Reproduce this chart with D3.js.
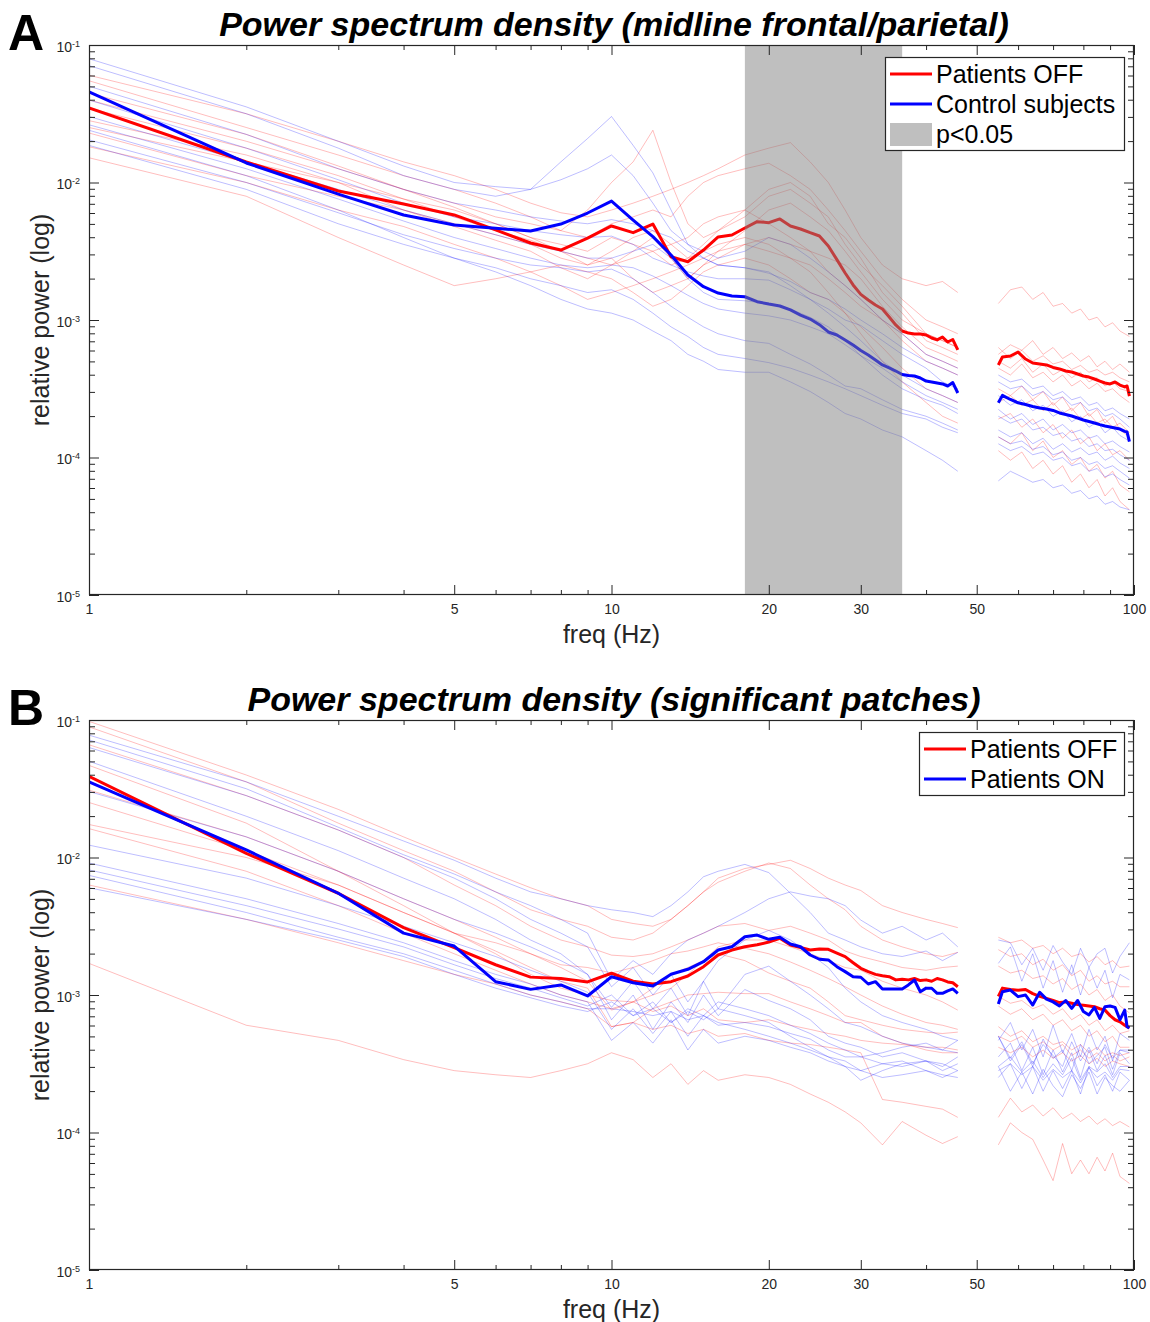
<!DOCTYPE html>
<html>
<head>
<meta charset="utf-8">
<script src="https://d3js.org/d3.v7.min.js"></script>
<style>
  body { margin: 0; background: #fff; }
  svg { display: block; }
</style>
</head>
<body>
<svg id="chart" width="1150" height="1322"></svg>
<script>
'use strict';

// frequencies (Hz) sampled for the thin per-subject traces
const thinFreqs = [1,2,3,4,5,6,7,8,9,10,11,12,13,14,15,16,18,20,22,24,26,28,30,33,36,40,43,46,
                   55,58,61,64,67,70,73,76,79,82,85,88,91,94,98];
// frequencies (Hz) of the group average traces
const meanFreqs = [1,2,3,4,5,6,7,8,9,10,11,12,13,14,15,16,17,18,19,20,21,22,23,24,25,26,27,28,29,30,
                   31,32,33,34,35,36,37,38,39,40,41,42,43,44,45,46,
                   55,56,58,60,62,64,66,68,70,72,74,76,78,80,82,84,86,88,90,92,94,96,97,98];

const xTickLabels = [1, 5, 10, 20, 30, 50, 100];
const xMinorTicks = [2, 3, 4, 6, 7, 8, 9, 40, 60, 70, 80, 90];
const yDecades = [1e-5, 1e-4, 1e-3, 1e-2, 1e-1];

// all power values below are log10(relative power)

// ---- panel A : Patients OFF vs control subjects (midline frontal/parietal)
const meanOffA = [
  -1.458,-1.851,-2.062,-2.156,-2.236,-2.345,-2.44,-2.491,-2.404,-2.316,
  -2.365,-2.302,-2.54,-2.576,-2.491,-2.396,-2.382,-2.331,-2.285,-2.292,
  -2.265,-2.316,-2.338,-2.365,-2.389,-2.462,-2.561,-2.658,-2.745,-2.814,
  -2.855,-2.891,-2.92,-2.978,-3.036,-3.08,-3.095,-3.102,-3.102,-3.109,
  -3.131,-3.145,-3.124,-3.16,-3.142,-3.218,
  -3.327,-3.269,-3.262,-3.233,-3.284,-3.313,-3.32,-3.327,-3.345,-3.356,-3.371,-3.378,
  -3.393,-3.407,-3.415,-3.429,-3.444,-3.458,-3.465,-3.451,-3.473,-3.487,-3.48,-3.553];
const meanCtrlA = [
  -1.34,-1.858,-2.084,-2.236,-2.309,-2.333,-2.353,-2.302,-2.222,-2.135,
  -2.273,-2.394,-2.527,-2.673,-2.758,-2.804,-2.825,-2.831,-2.867,-2.884,
  -2.898,-2.927,-2.964,-2.993,-3.034,-3.087,-3.109,-3.145,-3.182,-3.222,
  -3.255,-3.291,-3.327,-3.349,-3.371,-3.396,-3.404,-3.407,-3.422,-3.444,
  -3.451,-3.458,-3.465,-3.48,-3.455,-3.531,
  -3.602,-3.548,-3.578,-3.602,-3.615,-3.629,-3.64,-3.647,-3.658,-3.676,-3.687,-3.698,
  -3.713,-3.727,-3.738,-3.749,-3.761,-3.771,-3.778,-3.785,-3.793,-3.81,-3.815,-3.884];
const subjOffA = [
  [-1.22,-1.50,-1.70,-1.85,-1.95,-2.05,-2.15,-2.22,-2.25,-2.20,-2.15,-2.10,-2.05,-2.00,-1.95,-1.90,-1.80,-1.75,-1.71,-1.85,-2.00,-2.20,-2.40,-2.60,-2.70,-2.75,-2.72,-2.80,
   -2.88,-2.78,-2.76,-2.85,-2.80,-2.90,-2.88,-2.95,-2.92,-3.00,-2.98,-3.05,-3.02,-3.08,-3.12],
  [-1.26,-1.60,-1.80,-1.95,-2.05,-2.15,-2.25,-2.35,-2.20,-2.00,-1.85,-1.62,-2.00,-2.30,-2.40,-2.35,-2.25,-2.10,-2.05,-2.15,-2.25,-2.45,-2.60,-2.75,-2.90,-3.10,-3.15,-3.20,
   -3.20,-3.28,-3.22,-3.30,-3.26,-3.32,-3.30,-3.36,-3.33,-3.38,-3.36,-3.40,-3.38,-3.42,-3.45],
  [-1.40,-1.70,-1.90,-2.05,-2.15,-2.25,-2.30,-2.35,-2.40,-2.30,-2.25,-2.20,-2.25,-2.10,-2.00,-1.95,-1.90,-1.86,-1.95,-2.05,-2.20,-2.35,-2.50,-2.70,-2.85,-3.00,-3.05,-3.10,
   -3.25,-3.18,-3.22,-3.15,-3.25,-3.20,-3.28,-3.24,-3.30,-3.26,-3.34,-3.30,-3.36,-3.32,-3.38],
  [-1.46,-1.75,-1.95,-2.12,-2.20,-2.30,-2.40,-2.45,-2.50,-2.40,-2.45,-2.50,-2.60,-2.55,-2.45,-2.35,-2.20,-2.05,-2.00,-2.10,-2.30,-2.40,-2.55,-2.80,-2.95,-3.15,-3.20,-3.25,
   -3.35,-3.40,-3.32,-3.42,-3.38,-3.45,-3.40,-3.48,-3.44,-3.50,-3.46,-3.52,-3.50,-3.55,-3.60],
  [-1.60,-1.85,-2.00,-2.12,-2.25,-2.35,-2.42,-2.50,-2.55,-2.60,-2.50,-2.40,-2.55,-2.70,-2.60,-2.50,-2.35,-2.20,-2.15,-2.25,-2.35,-2.50,-2.65,-2.85,-3.00,-3.10,-3.15,-3.20,
   -3.30,-3.35,-3.28,-3.38,-3.32,-3.40,-3.36,-3.42,-3.38,-3.45,-3.42,-3.48,-3.45,-3.50,-3.52],
  [-1.64,-1.95,-2.10,-2.20,-2.30,-2.38,-2.45,-2.55,-2.60,-2.55,-2.70,-2.80,-2.75,-2.70,-2.60,-2.55,-2.45,-2.40,-2.45,-2.50,-2.55,-2.60,-2.70,-2.90,-3.05,-3.20,-3.25,-3.30,
   -3.60,-3.55,-3.62,-3.58,-3.66,-3.60,-3.68,-3.64,-3.72,-3.68,-3.75,-3.72,-3.78,-3.75,-3.82],
  [-1.74,-2.00,-2.20,-2.32,-2.45,-2.55,-2.65,-2.75,-2.85,-2.80,-2.75,-2.70,-2.65,-2.60,-2.55,-2.50,-2.45,-2.50,-2.55,-2.60,-2.70,-2.80,-2.90,-3.00,-3.15,-3.30,-3.35,-3.40,
   -3.72,-3.68,-3.78,-3.72,-3.82,-3.76,-3.86,-3.80,-3.90,-3.85,-3.95,-3.90,-3.98,-3.95,-4.02],
  [-1.82,-2.10,-2.40,-2.60,-2.75,-2.70,-2.65,-2.60,-2.65,-2.70,-2.80,-2.90,-2.85,-2.75,-2.65,-2.60,-2.55,-2.60,-2.70,-2.80,-2.85,-2.95,-3.05,-3.20,-3.35,-3.50,-3.55,-3.60,
   -3.85,-3.90,-3.82,-3.95,-3.88,-4.00,-3.95,-4.05,-4.00,-4.10,-4.05,-4.15,-4.10,-4.20,-4.25],
  [-1.55,-1.80,-2.00,-2.20,-2.32,-2.42,-2.50,-2.62,-2.70,-2.60,-2.55,-2.50,-2.45,-2.40,-2.30,-2.25,-2.20,-2.30,-2.40,-2.50,-2.65,-2.75,-2.85,-3.00,-3.10,-3.25,-3.30,-3.35,
   -3.50,-3.55,-3.48,-3.58,-3.52,-3.62,-3.56,-3.66,-3.60,-3.70,-3.65,-3.75,-3.70,-3.80,-3.85],
  [-1.35,-1.65,-1.88,-2.05,-2.18,-2.30,-2.40,-2.50,-2.60,-2.50,-2.40,-2.35,-2.45,-2.55,-2.50,-2.45,-2.40,-2.45,-2.55,-2.65,-2.80,-2.95,-3.10,-3.30,-3.45,-3.60,-3.70,-3.75,
   -3.95,-4.02,-3.96,-4.08,-4.02,-4.12,-4.06,-4.18,-4.12,-4.22,-4.16,-4.28,-4.22,-4.32,-4.38]
];
const subjCtrlA = [
  [-1.10,-1.45,-1.70,-1.88,-2.00,-2.03,-2.05,-1.85,-1.68,-1.52,-1.73,-1.93,-2.20,-2.45,-2.55,-2.60,-2.62,-2.65,-2.75,-2.85,-2.95,-3.05,-3.15,-3.30,-3.40,-3.50,-3.55,-3.60,
   -3.70,-3.75,-3.72,-3.80,-3.78,-3.84,-3.82,-3.88,-3.86,-3.92,-3.90,-3.95,-3.94,-3.98,-4.02],
  [-1.15,-1.50,-1.75,-1.95,-2.05,-2.10,-2.05,-1.98,-1.90,-1.80,-1.95,-2.15,-2.35,-2.45,-2.50,-2.55,-2.50,-2.40,-2.45,-2.55,-2.65,-2.75,-2.85,-3.00,-3.10,-3.25,-3.30,-3.35,
   -3.45,-3.50,-3.48,-3.55,-3.52,-3.58,-3.56,-3.62,-3.60,-3.66,-3.64,-3.70,-3.68,-3.72,-3.78],
  [-1.30,-1.65,-1.90,-2.05,-2.15,-2.20,-2.25,-2.28,-2.30,-2.27,-2.30,-2.35,-2.40,-2.50,-2.55,-2.60,-2.62,-2.66,-2.72,-2.80,-2.85,-2.92,-3.00,-3.10,-3.20,-3.30,-3.35,-3.40,
   -3.40,-3.45,-3.43,-3.50,-3.48,-3.55,-3.52,-3.58,-3.56,-3.62,-3.60,-3.66,-3.64,-3.68,-3.72],
  [-1.40,-1.75,-1.98,-2.15,-2.25,-2.30,-2.35,-2.38,-2.40,-2.39,-2.45,-2.55,-2.60,-2.65,-2.68,-2.70,-2.70,-2.71,-2.78,-2.85,-2.92,-3.00,-3.04,-3.15,-3.25,-3.35,-3.45,-3.50,
   -3.55,-3.62,-3.58,-3.66,-3.62,-3.70,-3.66,-3.74,-3.70,-3.78,-3.74,-3.82,-3.78,-3.84,-3.88],
  [-1.52,-1.85,-2.05,-2.20,-2.30,-2.38,-2.45,-2.50,-2.55,-2.55,-2.50,-2.45,-2.55,-2.70,-2.80,-2.85,-2.86,-2.88,-2.92,-2.98,-3.05,-3.15,-3.26,-3.35,-3.45,-3.55,-3.60,-3.65,
   -3.80,-3.85,-3.82,-3.90,-3.86,-3.94,-3.90,-3.96,-3.93,-3.98,-3.96,-4.02,-3.99,-4.04,-4.08],
  [-1.58,-1.90,-2.12,-2.28,-2.40,-2.48,-2.55,-2.60,-2.62,-2.60,-2.62,-2.68,-2.75,-2.82,-2.88,-2.92,-2.95,-2.97,-3.00,-3.05,-3.10,-3.18,-3.26,-3.40,-3.50,-3.58,-3.62,-3.68,
   -3.65,-3.72,-3.68,-3.76,-3.72,-3.80,-3.76,-3.82,-3.80,-3.86,-3.84,-3.90,-3.88,-3.92,-3.96],
  [-1.69,-2.00,-2.22,-2.38,-2.48,-2.55,-2.60,-2.62,-2.65,-2.63,-2.70,-2.80,-2.90,-2.98,-3.05,-3.10,-3.15,-3.17,-3.25,-3.32,-3.40,-3.48,-3.50,-3.58,-3.65,-3.70,-3.75,-3.80,
   -3.85,-3.90,-3.88,-3.94,-3.92,-3.98,-3.96,-4.02,-4.00,-4.05,-4.03,-4.08,-4.06,-4.10,-4.15],
  [-1.73,-2.05,-2.30,-2.45,-2.55,-2.62,-2.70,-2.75,-2.80,-2.78,-2.85,-2.95,-3.05,-3.12,-3.20,-3.25,-3.28,-3.31,-3.35,-3.40,-3.45,-3.50,-3.55,-3.62,-3.68,-3.72,-3.78,-3.82,
   -3.90,-3.95,-3.92,-3.98,-3.96,-4.02,-4.00,-4.06,-4.04,-4.10,-4.08,-4.14,-4.12,-4.16,-4.20],
  [-1.62,-1.95,-2.20,-2.40,-2.55,-2.65,-2.75,-2.85,-2.92,-2.95,-3.00,-3.08,-3.15,-3.25,-3.30,-3.36,-3.38,-3.38,-3.45,-3.52,-3.60,-3.68,-3.72,-3.80,-3.85,-3.95,-4.02,-4.10,
   -4.17,-4.10,-4.14,-4.18,-4.16,-4.22,-4.20,-4.26,-4.24,-4.30,-4.28,-4.34,-4.32,-4.36,-4.38]
];
const sigBandA = [18, 36];

// ---- panel B : Patients OFF vs Patients ON (significant patches)
const meanOffB = [
  -1.41,-1.97,-2.26,-2.51,-2.655,-2.78,-2.87,-2.88,-2.905,-2.842,
  -2.90,-2.92,-2.903,-2.862,-2.794,-2.709,-2.673,-2.649,-2.635,-2.615,
  -2.588,-2.636,-2.655,-2.673,-2.665,-2.668,-2.695,-2.721,-2.765,-2.806,
  -2.83,-2.85,-2.86,-2.867,-2.89,-2.885,-2.89,-2.88,-2.895,-2.89,
  -2.90,-2.88,-2.89,-2.905,-2.911,-2.94,
  -3.01,-2.95,-2.96,-2.965,-2.96,-2.99,-3.01,-3.025,-3.04,-3.055,-3.05,-3.06,
  -3.07,-3.075,-3.08,-3.085,-3.10,-3.11,-3.15,-3.18,-3.195,-3.22,-3.23,-3.24];
const meanOnB = [
  -1.45,-1.945,-2.26,-2.55,-2.644,-2.903,-2.959,-2.927,-3.007,-2.867,
  -2.911,-2.935,-2.849,-2.813,-2.758,-2.673,-2.649,-2.576,-2.564,-2.595,
  -2.58,-2.629,-2.649,-2.709,-2.74,-2.745,-2.794,-2.83,-2.867,-2.871,
  -2.92,-2.903,-2.956,-2.956,-2.956,-2.956,-2.927,-2.891,-2.976,-2.95,
  -2.951,-2.988,-2.988,-2.97,-2.956,-2.988,
  -3.065,-2.976,-2.964,-3.012,-3.00,-3.073,-2.98,-3.03,-3.05,-3.08,-3.04,-3.097,
  -3.04,-3.12,-3.145,-3.09,-3.17,-3.085,-3.08,-3.09,-3.18,-3.11,-3.231,-3.24];
const subjOffB = [
  [-1.01,-1.40,-1.65,-1.85,-2.00,-2.12,-2.22,-2.30,-2.35,-2.45,-2.48,-2.50,-2.45,-2.35,-2.25,-2.15,-2.08,-2.05,-2.02,-2.08,-2.15,-2.20,-2.24,-2.35,-2.40,-2.45,-2.48,-2.51,
   -2.58,-2.62,-2.60,-2.66,-2.64,-2.70,-2.66,-2.72,-2.70,-2.76,-2.72,-2.78,-2.75,-2.80,-2.79],
  [-1.05,-1.45,-1.75,-1.95,-2.10,-2.25,-2.38,-2.45,-2.50,-2.58,-2.60,-2.55,-2.45,-2.35,-2.25,-2.18,-2.10,-2.04,-2.08,-2.20,-2.30,-2.38,-2.50,-2.60,-2.65,-2.70,-2.72,-2.69,
   -2.67,-2.72,-2.70,-2.78,-2.74,-2.82,-2.78,-2.86,-2.82,-2.90,-2.86,-2.92,-2.90,-2.94,-2.94],
  [-1.18,-1.55,-1.80,-2.00,-2.20,-2.35,-2.50,-2.60,-2.65,-2.71,-2.72,-2.70,-2.65,-2.60,-2.55,-2.50,-2.48,-2.53,-2.50,-2.55,-2.60,-2.68,-2.72,-2.76,-2.80,-2.82,-2.80,-2.79,
   -2.79,-2.84,-2.82,-2.88,-2.86,-2.92,-2.88,-2.96,-2.92,-3.00,-2.96,-3.04,-3.00,-3.08,-3.13],
  [-1.33,-1.75,-2.10,-2.35,-2.55,-2.70,-2.85,-2.95,-3.00,-3.04,-3.05,-3.00,-2.95,-2.85,-2.75,-2.65,-2.60,-2.60,-2.65,-2.70,-2.75,-2.80,-2.82,-2.90,-2.95,-3.00,-3.05,-3.11,
   -3.01,-3.06,-3.04,-3.10,-3.07,-3.14,-3.10,-3.18,-3.14,-3.22,-3.18,-3.26,-3.22,-3.28,-3.26],
  [-1.51,-1.85,-2.10,-2.30,-2.45,-2.58,-2.70,-2.80,-2.90,-3.11,-3.05,-2.95,-2.85,-2.80,-2.75,-2.70,-2.75,-2.84,-2.90,-2.95,-3.05,-3.15,-3.18,-3.22,-3.25,-3.27,-3.28,-3.27,
   -3.08,-3.14,-3.10,-3.18,-3.14,-3.22,-3.18,-3.26,-3.22,-3.30,-3.26,-3.34,-3.30,-3.38,-3.38],
  [-1.76,-2.00,-2.20,-2.40,-2.55,-2.68,-2.80,-2.90,-2.95,-3.23,-3.20,-3.10,-3.05,-3.00,-2.99,-2.98,-2.99,-2.99,-3.05,-3.10,-3.15,-3.20,-3.20,-3.30,-3.35,-3.40,-3.42,-3.42,
   -3.23,-3.30,-3.26,-3.34,-3.30,-3.36,-3.34,-3.40,-3.36,-3.42,-3.38,-3.44,-3.42,-3.44,-3.42],
  [-1.79,-2.10,-2.35,-2.55,-2.70,-2.82,-2.92,-3.00,-3.05,-3.10,-3.05,-3.12,-3.08,-3.15,-3.10,-3.18,-3.20,-3.18,-3.22,-3.25,-3.28,-3.30,-3.33,-3.35,-3.36,-3.38,-3.38,-3.40,
   -3.38,-3.42,-3.38,-3.45,-3.40,-3.46,-3.42,-3.48,-3.44,-3.50,-3.46,-3.52,-3.48,-3.50,-3.52],
  [-2.20,-2.45,-2.62,-2.75,-2.85,-2.92,-3.00,-3.05,-3.10,-3.23,-3.20,-3.25,-3.22,-3.28,-3.25,-3.30,-3.28,-3.33,-3.35,-3.36,-3.38,-3.40,-3.42,-3.76,-3.78,-3.81,-3.83,-3.89,
   -3.89,-3.75,-3.85,-3.80,-3.88,-3.82,-3.90,-3.86,-3.92,-3.88,-3.94,-3.90,-3.95,-3.92,-3.96],
  [-2.77,-3.22,-3.33,-3.47,-3.55,-3.58,-3.60,-3.55,-3.50,-3.42,-3.47,-3.60,-3.50,-3.65,-3.55,-3.62,-3.58,-3.60,-3.65,-3.72,-3.78,-3.85,-3.93,-4.09,-3.92,-4.02,-4.08,-4.03,
   -4.09,-3.93,-4.00,-4.05,-4.20,-4.35,-4.08,-4.30,-4.20,-4.30,-4.18,-4.28,-4.15,-4.32,-4.37],
  [-1.60,-1.95,-2.20,-2.40,-2.55,-2.62,-2.70,-2.78,-2.80,-2.84,-2.80,-2.75,-2.70,-2.68,-2.65,-2.62,-2.66,-2.70,-2.76,-2.82,-2.88,-2.94,-3.00,-3.08,-3.14,-3.20,-3.22,-3.25,
   -3.30,-3.34,-3.30,-3.38,-3.34,-3.40,-3.36,-3.44,-3.40,-3.46,-3.42,-3.48,-3.44,-3.48,-3.45]
];
const subjOnB = [
  [-1.11,-1.45,-1.70,-1.88,-2.02,-2.15,-2.25,-2.30,-2.35,-2.38,-2.40,-2.43,-2.35,-2.25,-2.14,-2.10,-2.05,-2.11,-2.26,-2.40,-2.55,-2.60,-2.65,-2.70,-2.72,-2.68,-2.75,-2.69,
   -2.77,-2.65,-2.90,-2.70,-2.95,-2.75,-2.98,-2.78,-3.00,-2.80,-2.95,-2.82,-3.02,-2.85,-2.89],
  [-1.145,-1.50,-1.78,-1.98,-2.12,-2.25,-2.35,-2.45,-2.55,-2.89,-2.75,-2.85,-2.70,-2.60,-2.55,-2.50,-2.40,-2.30,-2.25,-2.28,-2.30,-2.35,-2.455,-2.55,-2.50,-2.60,-2.55,-2.65,
   -2.60,-2.62,-2.78,-2.66,-2.82,-2.64,-2.76,-2.85,-2.66,-2.80,-2.70,-2.66,-2.84,-2.72,-2.62],
  [-1.20,-1.55,-1.80,-2.00,-2.15,-2.30,-2.45,-2.55,-2.65,-2.94,-2.80,-3.00,-2.85,-3.05,-2.90,-2.75,-2.60,-2.53,-2.60,-2.70,-2.80,-2.95,-3.05,-3.15,-3.20,-3.25,-3.30,-3.33,
   -3.33,-3.20,-3.40,-3.25,-3.45,-3.22,-3.42,-3.28,-3.45,-3.25,-3.40,-3.30,-3.48,-3.28,-3.33],
  [-1.30,-1.70,-1.95,-2.15,-2.30,-2.45,-2.60,-2.70,-2.85,-3.09,-2.90,-3.10,-2.95,-3.15,-2.90,-3.10,-2.85,-2.79,-2.90,-3.00,-3.10,-3.20,-3.23,-3.30,-3.35,-3.38,-3.40,-3.42,
   -3.30,-3.48,-3.36,-3.52,-3.32,-3.46,-3.40,-3.55,-3.36,-3.50,-3.44,-3.38,-3.54,-3.40,-3.42],
  [-1.52,-1.85,-2.10,-2.30,-2.45,-2.55,-2.65,-2.75,-2.85,-3.18,-3.00,-3.25,-3.05,-3.20,-3.00,-3.15,-2.96,-3.04,-3.10,-3.18,-3.30,-3.35,-3.38,-3.45,-3.42,-3.48,-3.50,-3.55,
   -3.52,-3.45,-3.56,-3.48,-3.60,-3.50,-3.58,-3.46,-3.62,-3.52,-3.56,-3.50,-3.60,-3.52,-3.52],
  [-1.91,-2.15,-2.35,-2.50,-2.62,-2.72,-2.82,-2.90,-2.98,-3.25,-3.10,-3.28,-3.12,-3.30,-3.15,-3.22,-3.20,-3.23,-3.28,-3.32,-3.40,-3.45,-3.45,-3.50,-3.48,-3.55,-3.58,-3.60,
   -3.52,-3.70,-3.56,-3.72,-3.54,-3.66,-3.74,-3.58,-3.68,-3.56,-3.72,-3.60,-3.66,-3.70,-3.62],
  [-2.04,-2.30,-2.48,-2.62,-2.75,-2.85,-2.92,-3.00,-3.05,-3.33,-3.20,-3.35,-3.18,-3.40,-3.25,-3.35,-3.30,-3.33,-3.38,-3.42,-3.48,-3.52,-3.62,-3.55,-3.50,-3.48,-3.52,-3.45,
   -3.45,-3.35,-3.55,-3.38,-3.58,-3.40,-3.56,-3.42,-3.60,-3.40,-3.55,-3.44,-3.58,-3.42,-3.50],
  [-2.09,-2.35,-2.52,-2.65,-2.78,-2.88,-2.95,-3.02,-3.08,-3.00,-3.15,-3.05,-3.20,-3.10,-3.15,-3.05,-3.10,-3.15,-3.22,-3.28,-3.35,-3.40,-3.45,-3.42,-3.38,-3.35,-3.40,-3.33,
   -3.30,-3.46,-3.34,-3.50,-3.36,-3.44,-3.52,-3.34,-3.48,-3.38,-3.50,-3.36,-3.46,-3.40,-3.40],
  [-2.13,-2.40,-2.58,-2.70,-2.82,-2.92,-3.00,-3.05,-3.10,-3.10,-3.12,-3.15,-3.12,-3.18,-3.15,-3.20,-3.25,-3.30,-3.35,-3.40,-3.45,-3.48,-3.55,-3.50,-3.52,-3.48,-3.55,-3.50,
   -3.55,-3.50,-3.58,-3.52,-3.62,-3.54,-3.60,-3.55,-3.64,-3.53,-3.60,-3.56,-3.62,-3.54,-3.55],
  [-2.22,-2.45,-2.60,-2.72,-2.85,-2.95,-3.02,-3.08,-3.12,-3.05,-3.15,-3.10,-3.20,-3.12,-3.18,-3.10,-3.15,-3.20,-3.30,-3.38,-3.45,-3.52,-3.55,-3.60,-3.58,-3.55,-3.60,-3.55,
   -3.60,-3.50,-3.68,-3.52,-3.70,-3.55,-3.68,-3.55,-3.72,-3.52,-3.66,-3.58,-3.70,-3.56,-3.62]
];

const RED = '#ff0000';
const BLUE = '#0000ff';
const AXIS = '#262626';
const NARROW = "'Liberation Sans Narrow', 'Liberation Sans', Arial, sans-serif";
const SANS = "'Liberation Sans', Arial, Helvetica, sans-serif";

const svg = d3.select('#chart');
svg.append('rect').attr('width', 1150).attr('height', 1322).attr('fill', '#fff');

const plotLeft = 89, plotRight = 1134;

// split a trace into the part below and above the 50 Hz notch
function segments(freqs, logs) {
  const pts = logs.map(function(v, i) { return {f: freqs[i], p: Math.pow(10, v)}; });
  return [pts.filter(function(d) { return d.f <= 46; }),
          pts.filter(function(d) { return d.f >= 55; })];
}

function drawPanel(cfg) {
  const x = d3.scaleLog().domain([1, 100]).range([plotLeft, plotRight]);
  const y = d3.scaleLog().domain([1e-5, 1e-1]).range([cfg.bottom, cfg.top]);
  const line = d3.line().x(function(d) { return x(d.f); }).y(function(d) { return y(d.p); });

  const g = svg.append('g');
  const clipId = 'clip-' + cfg.id;
  g.append('clipPath').attr('id', clipId)
    .append('rect')
      .attr('x', plotLeft).attr('y', cfg.top)
      .attr('width', plotRight - plotLeft).attr('height', cfg.bottom - cfg.top);

  const plot = g.append('g').attr('clip-path', 'url(#' + clipId + ')');

  // individual subjects, faint
  cfg.groups.forEach(function(grp) {
    grp.subjects.forEach(function(row) {
      segments(thinFreqs, row).forEach(function(seg) {
        plot.append('path')
          .attr('d', line(seg))
          .attr('fill', 'none')
          .attr('stroke', grp.color)
          .attr('stroke-opacity', 0.26)
          .attr('stroke-width', 1);
      });
    });
  });

  // group averages
  cfg.groups.forEach(function(grp) {
    segments(meanFreqs, grp.mean).forEach(function(seg) {
      plot.append('path')
        .attr('d', line(seg))
        .attr('fill', 'none')
        .attr('stroke', grp.color)
        .attr('stroke-width', 3)
        .attr('stroke-linejoin', 'round');
    });
  });

  // significance patch sits on top of the traces (semi transparent)
  if (cfg.band) {
    plot.append('rect')
      .attr('x', x(cfg.band[0]))
      .attr('y', cfg.top)
      .attr('width', x(cfg.band[1]) - x(cfg.band[0]))
      .attr('height', cfg.bottom - cfg.top)
      .attr('fill', '#808080')
      .attr('fill-opacity', 0.5);
  }

  // axes: ticks point inwards on all four sides
  const yMinor = [];
  yDecades.slice(0, -1).forEach(function(d) {
    for (let k = 2; k <= 9; k++) yMinor.push(d * k);
  });

  function styleAxis(sel) {
    sel.select('.domain').remove();
    sel.selectAll('line').attr('stroke', AXIS);
  }

  g.append('g').attr('transform', 'translate(0,' + cfg.bottom + ')')
    .call(d3.axisBottom(x).tickValues(xTickLabels).tickSize(-10).tickPadding(9).tickFormat(d3.format('d')))
    .call(styleAxis)
    .call(function(a) {
      a.selectAll('text').attr('font-family', NARROW).attr('font-size', 14).attr('fill', AXIS);
    });
  g.append('g').attr('transform', 'translate(0,' + cfg.bottom + ')')
    .call(d3.axisBottom(x).tickValues(xMinorTicks).tickSize(-5).tickFormat(''))
    .call(styleAxis);
  g.append('g').attr('transform', 'translate(0,' + cfg.top + ')')
    .call(d3.axisTop(x).tickValues(xTickLabels).tickSize(-10).tickFormat(''))
    .call(styleAxis);
  g.append('g').attr('transform', 'translate(0,' + cfg.top + ')')
    .call(d3.axisTop(x).tickValues(xMinorTicks).tickSize(-5).tickFormat(''))
    .call(styleAxis);

  g.append('g').attr('transform', 'translate(' + plotLeft + ',0)')
    .call(d3.axisLeft(y).tickValues(yDecades).tickSize(-10).tickPadding(9).tickFormat(function(d) {
      return String(Math.round(Math.log10(d)));
    }))
    .call(styleAxis)
    .call(function(a) {
      a.selectAll('text').each(function() {
        const t = d3.select(this);
        const exp = t.text();
        t.text(null)
          .attr('font-family', NARROW).attr('font-size', 14).attr('fill', AXIS)
          .attr('dy', '0.45em');
        t.append('tspan').text('10');
        t.append('tspan').attr('dy', '-0.55em').attr('font-size', 9).text(exp);
      });
    });
  g.append('g').attr('transform', 'translate(' + plotLeft + ',0)')
    .call(d3.axisLeft(y).tickValues(yMinor).tickSize(-6).tickFormat(''))
    .call(styleAxis);
  g.append('g').attr('transform', 'translate(' + plotRight + ',0)')
    .call(d3.axisRight(y).tickValues(yDecades).tickSize(-10).tickFormat(''))
    .call(styleAxis);
  g.append('g').attr('transform', 'translate(' + plotRight + ',0)')
    .call(d3.axisRight(y).tickValues(yMinor).tickSize(-6).tickFormat(''))
    .call(styleAxis);

  g.append('rect')
    .attr('x', plotLeft + 0.5).attr('y', cfg.top + 0.5)
    .attr('width', plotRight - plotLeft - 1).attr('height', cfg.bottom - cfg.top - 1)
    .attr('fill', 'none').attr('stroke', AXIS).attr('stroke-width', 1.2);

  // axis labels
  g.append('text')
    .attr('x', (plotLeft + plotRight) / 2).attr('y', cfg.bottom + 48)
    .attr('text-anchor', 'middle')
    .attr('font-family', NARROW).attr('font-size', 25).attr('fill', AXIS)
    .text('freq (Hz)');
  g.append('text')
    .attr('transform', 'translate(49,' + ((cfg.top + cfg.bottom) / 2) + ') rotate(-90)')
    .attr('text-anchor', 'middle')
    .attr('font-family', SANS).attr('font-size', 25).attr('fill', AXIS)
    .text('relative power (log)');

  // title and panel letter
  g.append('text')
    .attr('x', 614).attr('y', cfg.top - 9)
    .attr('text-anchor', 'middle')
    .attr('font-family', SANS).attr('font-size', 34)
    .attr('font-weight', 'bold').attr('font-style', 'italic')
    .text(cfg.title);
  g.append('text')
    .attr('x', 8).attr('y', cfg.top + 5)
    .attr('font-family', SANS).attr('font-size', 50).attr('font-weight', 'bold')
    .text(cfg.letter);

  // legend
  const lg = g.append('g').attr('transform', 'translate(' + cfg.legend.x + ',' + cfg.legend.y + ')');
  const rowH = 30;
  lg.append('rect')
    .attr('x', 0.5).attr('y', 0.5)
    .attr('width', cfg.legend.w).attr('height', cfg.legend.items.length * rowH + 3)
    .attr('fill', '#fff').attr('stroke', AXIS).attr('stroke-width', 1.2);
  cfg.legend.items.forEach(function(it, i) {
    const cy = 17 + i * rowH;
    if (it.patch) {
      lg.append('rect').attr('x', 5).attr('y', cy - 11).attr('width', 42).attr('height', 23)
        .attr('fill', '#808080').attr('fill-opacity', 0.5);
    } else {
      lg.append('line').attr('x1', 5).attr('x2', 47).attr('y1', cy).attr('y2', cy)
        .attr('stroke', it.color).attr('stroke-width', 3);
    }
    lg.append('text')
      .attr('x', 51).attr('y', cy + 9)
      .attr('font-family', SANS).attr('font-size', 25).attr('fill', '#000')
      .text(it.label);
  });
}

drawPanel({
  id: 'a', letter: 'A', top: 45, bottom: 595,
  title: 'Power spectrum density (midline frontal/parietal)',
  groups: [
    {color: RED, mean: meanOffA, subjects: subjOffA},
    {color: BLUE, mean: meanCtrlA, subjects: subjCtrlA}
  ],
  band: sigBandA,
  legend: {x: 885, y: 57, w: 239, items: [
    {label: 'Patients OFF', color: RED},
    {label: 'Control subjects', color: BLUE},
    {label: 'p<0.05', patch: true}
  ]}
});

drawPanel({
  id: 'b', letter: 'B', top: 720, bottom: 1270,
  title: 'Power spectrum density (significant patches)',
  groups: [
    {color: RED, mean: meanOffB, subjects: subjOffB},
    {color: BLUE, mean: meanOnB, subjects: subjOnB}
  ],
  band: null,
  legend: {x: 919, y: 732, w: 205, items: [
    {label: 'Patients OFF', color: RED},
    {label: 'Patients ON', color: BLUE}
  ]}
});
</script>
</body>
</html>
